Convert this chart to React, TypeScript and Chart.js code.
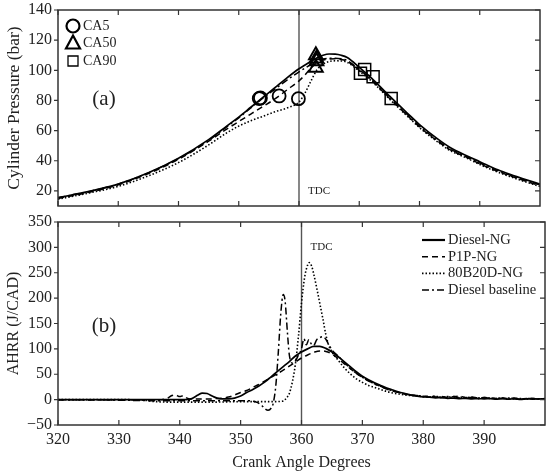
import { useEffect, useRef } from "react"
import { Chart, registerables, type ChartConfiguration, type Plugin } from "chart.js"

Chart.register(...registerables)

const serif = "'Liberation Serif', 'Times New Roman', serif"
Chart.defaults.font.family = serif
Chart.defaults.color = "#222"

// fuels, in legend order
const fuels = ["Diesel-NG", "P1P-NG", "80B20D-NG", "Diesel baseline"]
const fuelDash = [[], [6, 4], [1.5, 2], [7, 3, 2, 3]]
const fuelWidth = [1.7, 1.5, 1.6, 1.5]

const angleTicks = [320, 330, 340, 350, 360, 370, 380, 390]
const pressureTicks = [20, 40, 60, 80, 100, 120, 140]
const ahrrTicks = [-50, 0, 50, 100, 150, 200, 250, 300, 350]
const tdcDeg = 360

// (a) cylinder pressure, bar
const pressureDeg = [320, 325, 330, 335, 340, 345, 348, 350, 352, 354, 356, 358, 360, 361, 362, 363, 364, 365, 366, 367, 368, 370, 372, 375, 378, 380, 383, 385, 388, 390, 393, 395, 398, 400]
const pDieselNg = [15.5, 19.5, 24.5, 32, 41.7, 54, 63, 69, 75.5, 82, 88.5, 95, 101, 103.5, 106, 108.3, 110, 110.8, 110.7, 110, 108.5, 102, 95, 83, 71.5, 64, 54.5, 49, 43, 39.4, 34, 31, 27, 24.5]
const pP1pNg = [15, 19, 24, 31.5, 41, 53, 61, 66, 71, 76, 81, 87, 93, 97, 101.5, 105, 106.8, 107.5, 107.6, 107.2, 106, 100, 93.5, 81.5, 70, 62.5, 53, 47.5, 42, 38, 33, 30, 26, 23.5]
const p80b20dNg = [14.5, 18.5, 23, 30, 38.8, 50.5, 58.5, 63, 66.5, 69.5, 72.5, 75, 79, 85, 93, 100.5, 104, 105.8, 106.3, 106.2, 105.3, 99.5, 93, 81, 69.5, 62, 52.5, 47, 41.5, 37.5, 32.5, 29.5, 25.5, 23]
const pDieselBase = [15.5, 19.5, 24.5, 32, 41.5, 53.5, 62.5, 68.5, 75, 81.5, 87.5, 93.5, 99, 101.5, 104, 106.3, 107.5, 108, 108, 107.6, 106.5, 100.5, 94, 82, 70.5, 63, 53.5, 48, 42.5, 38.5, 33.5, 30.5, 26.5, 24]

// combustion markers, per fuel in legend order
const markerNames = ["CA5", "CA50", "CA90"]
const ca5Deg = [353.4, 356.7, 359.9, 353.6]
const ca5Bar = [81.3, 83, 81.2, 81.7]
const ca50Deg = [362.8, 362.9, 362.8, 362.9]
const ca50Bar = [110, 106, 101.7, 107.8]
const ca90Deg = [370.9, 370.2, 375.3, 372.3]
const ca90Bar = [100.6, 98, 81.3, 95.8]

// (b) apparent heat release rate, J/CAD
const hDieselNgDeg = [320, 325, 330, 335, 340, 341, 342, 343, 343.7, 344.5, 345.5, 346.5, 347.5, 348.5, 349,
  350, 351, 352, 353, 354, 355, 356, 357, 358, 359, 360, 361, 362, 363, 364, 365, 366, 367, 368, 369, 370,
  371, 372, 373, 374, 375, 376, 377, 378, 379, 380, 381, 382, 383, 384, 385, 386, 387, 388, 389, 390,
  391, 392, 393, 394, 395, 396, 397, 398, 399, 400]
const hDieselNg = [0, 0, 0, 0, 0, 0, 2, 9, 13, 12, 6, 2, 1.5, 2, 3,
  7, 14, 20, 27, 35, 45, 55, 65, 75, 86, 94, 100, 105, 105, 101, 94, 85, 75, 65, 55, 46,
  39, 33, 28, 23, 19, 15, 12, 9, 7, 5.5, 5, 3.5, 4, 2.5, 3, 2, 2.5, 1.5, 2, 1.5,
  2, 1, 2, 1, 1.5, 0.5, 1.5, 1, 1.5, 1]

const hP1pNgDeg = [320, 325, 330, 335, 337, 338, 338.7, 339.3, 340, 340.6, 341.2, 342, 344, 346, 347, 348, 349,
  350, 351, 352, 353, 354, 355, 356, 357, 358, 359, 360, 361, 362, 363, 364, 365, 366, 367, 368, 369, 370,
  371, 372, 373, 374, 375, 376, 377, 378, 379, 380, 381, 382, 383, 384, 385, 386, 387, 388, 389, 390,
  391, 392, 393, 394, 395, 396, 397, 398, 399, 400]
const hP1pNg = [0, -0.5, 0, -0.5, 0, 3, 8, 9, 6, 8, 3, 1, 1, 2, 3, 5, 9,
  14, 18, 24, 30, 37, 44, 51, 58, 66, 74, 82, 88, 93, 96, 95, 90, 81, 71, 61, 52, 44,
  37, 31, 26, 21, 17, 14, 11, 9, 8, 6, 7, 5, 6, 4, 6, 7, 4, 5, 3, 4,
  3, 2, 3, 2, 3, 1, 2, 2, 1, 2]

const h80b20dNgDeg = [320, 325, 330, 334, 336, 340, 345, 350, 355, 357,
  357.5, 358, 358.5, 359, 359.5, 360, 360.5, 361, 361.3, 361.7, 362, 362.5, 363, 363.5, 364, 364.5, 365,
  366, 367, 368, 369, 370, 371, 372, 373, 374, 375, 376, 377, 378, 379, 380, 381, 382, 383, 384, 385,
  386, 387, 388, 389, 390, 391, 392, 393, 394, 395, 396, 397, 398, 399, 400]
const h80b20dNg = [0, 0, 0, -1, -4, -5, -5, -4, -4, -3,
  3, 12, 35, 70, 125, 190, 240, 265, 270, 262, 248, 220, 190, 160, 128, 106, 94,
  78, 63, 51, 41, 34, 28, 24, 20, 16, 13, 11, 9, 8, 7, 6, 5, 7, 4, 6, 3,
  5, 3, 4, 2, 4, 3, 2, 3, 1, 2, 2, 1, 2, 1, 1]

const hDieselBaseDeg = [320, 325, 330, 335, 340, 345, 350,
  352, 352.8, 353.5, 354, 354.5, 355, 355.4, 355.8, 356.2, 356.6, 357, 357.3, 357.7, 358, 358.5, 359, 359.5,
  360, 360.4, 360.8, 361.2, 361.6, 362, 362.5, 363, 363.5, 364, 364.5, 365,
  366, 367, 368, 369, 370, 371, 372, 373, 374, 375, 376, 377, 378, 379, 380, 381, 382, 383, 384, 385,
  386, 387, 388, 389, 390, 391, 392, 393, 394, 395, 396, 397, 398, 399, 400]
const hDieselBase = [0, 0, -1, -2, -2, -2, -2,
  -3, -6, -12, -18, -21, -17, -5, 30, 95, 170, 207, 195, 130, 88, 72, 76, 88,
  100, 120, 108, 118, 110, 107, 118, 122, 124, 119, 108, 98,
  86, 74, 62, 52, 44, 37, 31, 26, 21, 17, 14, 11, 9, 8, 7, 5, 6, 4, 5, 6,
  3, 5, 4, 3, 4, 2, 3, 2, 3, 2, 1, 2, 2, 1, 1]

type Pt = { x: number; y: number }
const pairs = (xs: number[], ys: number[]): Pt[] => xs.map((x, i) => ({ x, y: ys[i] }))

function curve(i: number, data: Pt[]) {
  return {
    label: fuels[i],
    data,
    borderColor: "#000",
    borderWidth: fuelWidth[i],
    borderDash: fuelDash[i],
    pointRadius: 0,
    cubicInterpolationMode: "monotone" as const,
    fill: false,
    order: 1,
  }
}

function markers(label: string, xs: number[], ys: number[], style: string, radius: number, width: number) {
  return {
    label,
    data: pairs(xs, ys),
    showLine: false,
    pointStyle: style,
    pointRadius: radius,
    pointBorderWidth: width,
    pointBorderColor: "#000",
    pointBackgroundColor: "rgba(0,0,0,0)",
    order: 0,
  }
}

function drawMarker(ctx: CanvasRenderingContext2D, kind: number, x: number, y: number) {
  ctx.beginPath()
  if (kind === 0) {
    ctx.lineWidth = 2.2
    ctx.arc(x, y, 6.5, 0, Math.PI * 2)
  } else if (kind === 1) {
    ctx.lineWidth = 2.2
    ctx.moveTo(x, y - 8)
    ctx.lineTo(x + 7, y + 5)
    ctx.lineTo(x - 7, y + 5)
    ctx.closePath()
  } else {
    ctx.lineWidth = 1.3
    ctx.rect(x - 5, y - 5, 10, 10)
  }
  ctx.stroke()
}

// frame, inward ticks, TDC line, panel label and legends
function decor(panel: "a" | "b"): Plugin<"line"> {
  return {
    id: "decor-" + panel,
    beforeDatasetsDraw(chart) {
      const { ctx, chartArea: a, scales } = chart
      const x = scales.x.getPixelForValue(tdcDeg)
      ctx.save()
      ctx.strokeStyle = "#555"
      ctx.lineWidth = 1.4
      ctx.beginPath()
      ctx.moveTo(x, a.top)
      ctx.lineTo(x, a.bottom)
      ctx.stroke()
      ctx.fillStyle = "#222"
      ctx.font = `11px ${serif}`
      ctx.textBaseline = "middle"
      ctx.fillText("TDC", x + 9, panel === "a" ? a.bottom - 15 : a.top + 25)
      ctx.restore()
    },
    afterDraw(chart) {
      const { ctx, chartArea: a, scales } = chart
      ctx.save()
      ctx.strokeStyle = "#333"
      ctx.lineWidth = 1.5
      ctx.strokeRect(a.left, a.top, a.right - a.left, a.bottom - a.top)
      ctx.lineWidth = 1.2
      ctx.beginPath()
      for (const v of angleTicks) {
        const px = scales.x.getPixelForValue(v)
        ctx.moveTo(px, a.top)
        ctx.lineTo(px, a.top + 5)
        ctx.moveTo(px, a.bottom)
        ctx.lineTo(px, a.bottom - 5)
      }
      for (const v of panel === "a" ? pressureTicks : ahrrTicks) {
        const py = scales.y.getPixelForValue(v)
        ctx.moveTo(a.left - 4, py)
        ctx.lineTo(a.left, py)
        ctx.moveTo(a.right, py)
        ctx.lineTo(a.right - 5, py)
      }
      ctx.stroke()

      ctx.fillStyle = "#222"
      ctx.textBaseline = "middle"
      ctx.textAlign = "center"
      ctx.font = `21px ${serif}`
      ctx.fillText(panel === "a" ? "(a)" : "(b)", a.left + 46, a.top + (panel === "a" ? 89 : 104))

      ctx.textAlign = "left"
      ctx.strokeStyle = "#000"
      if (panel === "a") {
        ctx.font = `14px ${serif}`
        markerNames.forEach((name, i) => {
          const cy = a.top + 16 + i * 17.5
          drawMarker(ctx, i, a.left + 15, cy)
          ctx.fillText(name, a.left + 25, cy)
        })
      } else {
        ctx.font = `14.5px ${serif}`
        fuels.forEach((name, i) => {
          const cy = a.top + 18 + i * 16.7
          ctx.lineWidth = i === 0 ? 2.2 : fuelWidth[i]
          ctx.setLineDash(fuelDash[i])
          ctx.beginPath()
          ctx.moveTo(a.right - 123, cy)
          ctx.lineTo(a.right - 100, cy)
          ctx.stroke()
          ctx.setLineDash([])
          ctx.fillText(name, a.right - 97, cy)
        })
      }
      ctx.restore()
    },
  }
}

const hideAxisLine = { grid: { display: false, drawTicks: false }, border: { display: false } }

export default function App() {
  const topRef = useRef<HTMLCanvasElement>(null)
  const bottomRef = useRef<HTMLCanvasElement>(null)

  useEffect(() => {
    if (!topRef.current || !bottomRef.current) return

    const topConfig: ChartConfiguration<"line"> = {
      type: "line",
      data: {
        datasets: [
          markers("CA5", ca5Deg, ca5Bar, "circle", 6.5, 1.8) as any,
          markers("CA50", ca50Deg, ca50Bar, "triangle", 8, 1.9) as any,
          markers("CA90", ca90Deg, ca90Bar, "rect", 8.5, 1.5) as any,
          curve(0, pairs(pressureDeg, pDieselNg)),
          curve(1, pairs(pressureDeg, pP1pNg)),
          curve(2, pairs(pressureDeg, p80b20dNg)),
          curve(3, pairs(pressureDeg, pDieselBase)),
        ],
      },
      options: {
        animation: false,
        responsive: true,
        maintainAspectRatio: false,
        events: [],
        layout: { padding: { top: 9, right: 5, bottom: 3.5, left: 0 } },
        plugins: { legend: { display: false }, tooltip: { enabled: false } },
        scales: {
          x: { type: "linear", min: 320, max: 400, display: false },
          y: {
            type: "linear",
            min: 10,
            max: 140,
            ...hideAxisLine,
            afterBuildTicks: (s) => {
              s.ticks = pressureTicks.map((value) => ({ value }))
            },
            afterFit: (s) => {
              s.width = 58
              s.paddingTop = 0
              s.paddingBottom = 0
            },
            ticks: { padding: 6, font: { size: 16 } },
            title: { display: true, text: "Cylinder Pressure (bar)", font: { size: 17.5 }, padding: { top: 4, bottom: 0 } },
          },
        },
      },
      plugins: [decor("a")],
    }

    const bottomConfig: ChartConfiguration<"line"> = {
      type: "line",
      data: {
        datasets: [
          curve(0, pairs(hDieselNgDeg, hDieselNg)),
          curve(1, pairs(hP1pNgDeg, hP1pNg)),
          curve(2, pairs(h80b20dNgDeg, h80b20dNg)),
          curve(3, pairs(hDieselBaseDeg, hDieselBase)),
        ],
      },
      options: {
        animation: false,
        responsive: true,
        maintainAspectRatio: false,
        events: [],
        layout: { padding: { top: 8, right: 5, bottom: 0, left: 0 } },
        plugins: { legend: { display: false }, tooltip: { enabled: false } },
        scales: {
          x: {
            type: "linear",
            min: 320,
            max: 400,
            ...hideAxisLine,
            afterBuildTicks: (s) => {
              s.ticks = angleTicks.map((value) => ({ value }))
            },
            afterFit: (s) => {
              s.height = 49
              s.paddingLeft = 0
              s.paddingRight = 0
            },
            ticks: { padding: 5, font: { size: 16 }, autoSkip: false, maxRotation: 0 },
            title: { display: true, text: "Crank Angle Degrees", font: { size: 16 }, padding: { top: 0, bottom: 2 } },
          },
          y: {
            type: "linear",
            min: -50,
            max: 350,
            ...hideAxisLine,
            afterBuildTicks: (s) => {
              s.ticks = ahrrTicks.map((value) => ({ value }))
            },
            afterFit: (s) => {
              s.width = 58
              s.paddingTop = 0
              s.paddingBottom = 0
            },
            ticks: {
              padding: 6,
              font: { size: 16 },
              callback: (v) => (Number(v) < 0 ? "\u2212" + Math.abs(Number(v)) : String(v)),
            },
            title: { display: true, text: "AHRR (J/CAD)", font: { size: 16 }, padding: { top: 4, bottom: 0 } },
          },
        },
      },
      plugins: [decor("b")],
    }

    const top = new Chart(topRef.current, topConfig)
    const bottom = new Chart(bottomRef.current, bottomConfig)

    return () => {
      top.destroy()
      bottom.destroy()
    }
  }, [])

  return (
    <div style={{ position: "fixed", left: 0, top: 0, width: 550, height: 474, background: "#fff" }}>
      <div style={{ position: "absolute", left: 0, top: 0, width: 550, height: 216 }}>
        <canvas ref={topRef} />
      </div>
      <div style={{ position: "absolute", left: 0, top: 214, width: 550, height: 260 }}>
        <canvas ref={bottomRef} />
      </div>
    </div>
  )
}
